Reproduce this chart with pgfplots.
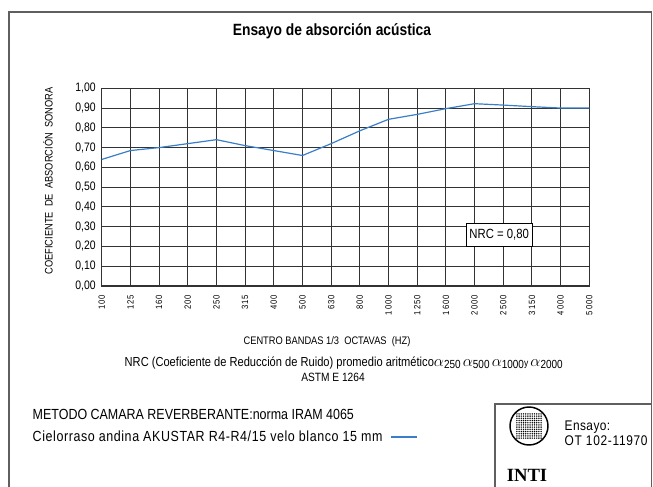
\documentclass[border=0pt]{standalone}
\usepackage{fontspec}
\setmainfont{Liberation Sans}[FakeStretch=0.85]
\newfontfamily\intifont{Liberation Serif}
\usepackage{pgfplots}
\pgfplotsset{compat=1.18}
\definecolor{lineblue}{RGB}{58,126,200}
\definecolor{gridgray}{RGB}{50,50,50}
\definecolor{framegray}{RGB}{95,95,95}
\newcommand{\sub}[1]{{\fontsize{8.8}{10}\selectfont\raisebox{-2pt}{#1}}}
\newcommand{\alf}{{\fontsize{12.5}{14}\selectfont$\alpha$}}
\begin{document}
\begin{tikzpicture}
\begin{scope}[x=0.75pt,y=-0.75pt]
\path[use as bounding box] (0,0) rectangle (653,486);
% outer frame
\draw[framegray, line width=0.9pt] (9,492) -- (9,12) -- (651.5,12) -- (651.5,492);
% title
\node[font=\bfseries\fontsize{12.2}{14}\selectfont] at (332,31) {Ensayo de absorción acústica};
% y label
\node[rotate=90, font=\fontsize{8.2}{10}\selectfont] at (48,181) {COEFICIENTE\ \ DE\ \ ABSORCIÓN\ \ SONORA};
% x label and notes
\node[font=\fontsize{8.2}{10}\selectfont] at (327,342) {CENTRO BANDAS 1/3\ \ OCTAVAS\ \ (HZ)};
\node[font=\fontsize{9.8}{11}\selectfont, anchor=base west] at (120,366) {NRC (Coeficiente de Reducción de Ruido) promedio aritmético\alf\sub{250}\,\alf\sub{500}\,\alf\sub{1000}{\fontsize{7.5}{9}\selectfont y}\,\alf\sub{2000}};
\node[font=\fontsize{9}{10}\selectfont] at (333,377) {ASTM E 1264};
% method and legend
\node[font=\fontsize{11}{13}\selectfont, anchor=west] at (28,414) {METODO CAMARA REVERBERANTE:norma IRAM 4065};
\node[font=\fontsize{11}{13}\selectfont\addfontfeature{LetterSpace=4}, anchor=west] at (28,436) {Cielorraso andina AKUSTAR R4-R4/15 velo blanco 15 mm};
\draw[lineblue, line width=0.9pt] (391,437) -- (417,437);
% INTI box
\draw[framegray, line width=0.9pt] (495,492) -- (495,404) -- (651.5,404);
\draw[black, line width=1.1pt] (529,426) circle (19);
\foreach \i in {0,...,11}{\foreach \j in {0,...,11}{
  \fill[black] (516.9+\i*2.2,413.9+\j*2.2) circle (0.8);}}
\node[font=\intifont\bfseries\fontsize{14}{15}\selectfont] at (527,475) {INTI};
\node[font=\fontsize{10.5}{12}\selectfont\addfontfeature{LetterSpace=3}, anchor=west] at (560,427) {Ensayo:};
\node[font=\fontsize{10.5}{12}\selectfont\addfontfeature{LetterSpace=5}, anchor=west] at (560,441) {OT 102-11970};
\end{scope}
\begin{axis}[
  at={(76.275pt,-214.5pt)}, anchor=south west,
  scale only axis, width=365.7pt, height=148.3pt,
  xmin=0, xmax=17, ymin=0, ymax=1,
  xtick={0,...,17},
  xticklabels={100,125,160,200,250,315,400,500,630,800,1000,1250,1600,2000,2500,3150,4000,5000},
  x tick label style={rotate=90, anchor=east, font=\fontsize{6.8}{7}\selectfont\addfontfeature{LetterSpace=12}},
  xticklabel shift=3pt,
  ytick={0,0.1,0.2,0.3,0.4,0.5,0.6,0.7,0.8,0.9,1},
  yticklabels={{0,00},{0,10},{0,20},{0,30},{0,40},{0,50},{0,60},{0,70},{0,80},{0,90},{1,00}},
  y tick label style={font=\fontsize{9.2}{10}\selectfont},
  yticklabel shift=1pt,
  major tick length=0pt,
  grid=major,
  major grid style={draw=gridgray, line width=0.8pt},
  axis line style={draw=gridgray, line width=0.8pt},
]
\addplot[lineblue, line width=0.9pt] coordinates {
  (0,0.64) (1,0.685) (2,0.70) (3,0.72) (4,0.74) (5,0.71) (6,0.685) (7,0.66)
  (8,0.72) (9,0.785) (10,0.843) (11,0.868) (12,0.897) (13,0.922) (14,0.915)
  (15,0.907) (16,0.90) (17,0.90)
};
\node[draw=black, fill=white, line width=0.6pt, minimum width=49pt, minimum height=17pt, inner sep=1pt, font=\fontsize{10}{11}\selectfont] at (axis cs:13.86,0.26) {NRC = 0,80};
\end{axis}
\end{tikzpicture}
\end{document}
